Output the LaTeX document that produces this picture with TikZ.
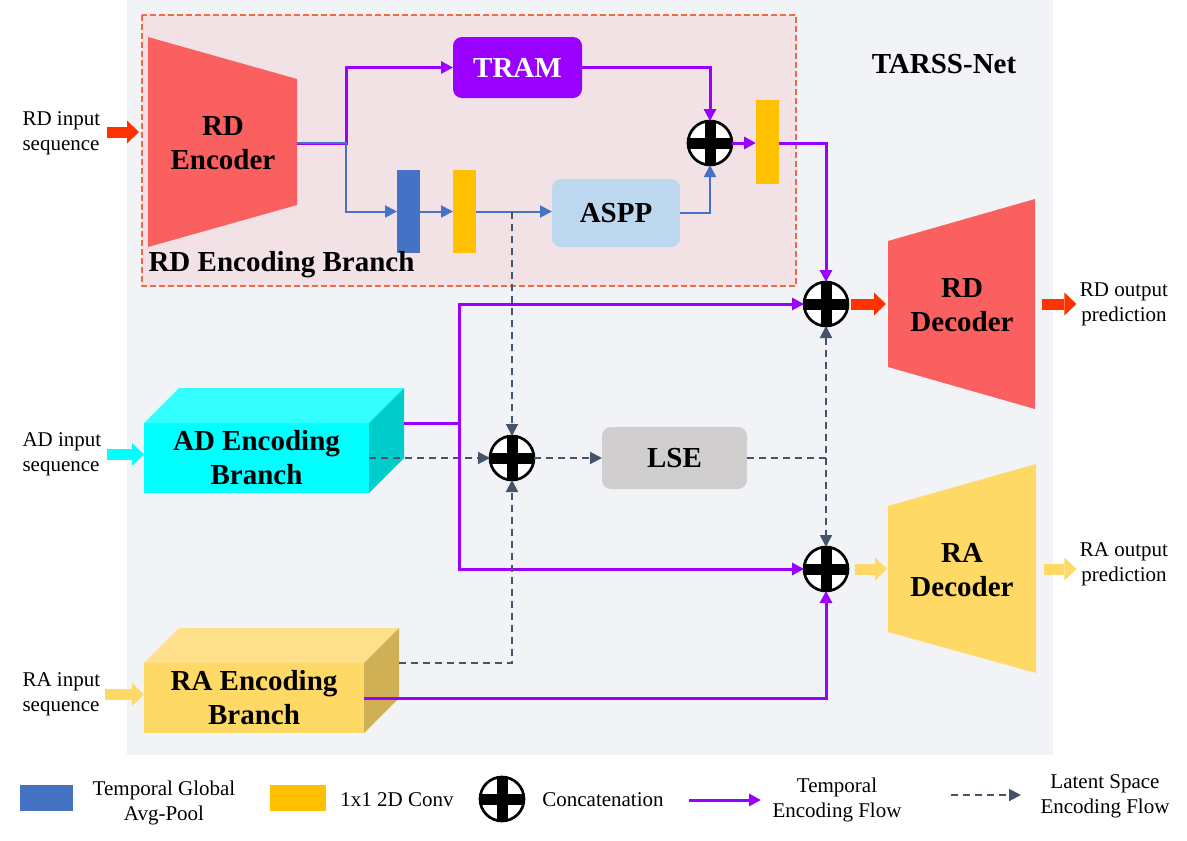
\documentclass[tikz,border=0pt]{standalone}
\usepackage{fontspec}
\setmainfont{Liberation Serif}
\usetikzlibrary{arrows.meta,calc}
\definecolor{panel}{HTML}{F2F3F7}
\definecolor{branchfill}{HTML}{F2E2E5}
\definecolor{branchdash}{HTML}{F2694A}
\definecolor{encred}{HTML}{FA6060}
\definecolor{tpurple}{HTML}{9900FF}
\definecolor{tblue}{HTML}{4472C4}
\definecolor{tyellow}{HTML}{FFC000}
\definecolor{asppblue}{HTML}{BDD7EE}
\definecolor{lsegrey}{HTML}{D0CECE}
\definecolor{tslate}{HTML}{44546A}
\definecolor{redarr}{HTML}{FF3300}
\definecolor{adcyan}{HTML}{00FFFF}
\definecolor{adtop}{HTML}{33FFFF}
\definecolor{adside}{HTML}{00CCCC}
\definecolor{rayellow}{HTML}{FFD966}
\definecolor{ratop}{HTML}{FFE08A}
\definecolor{raside}{HTML}{CFB054}
\begin{document}
\begin{tikzpicture}[x=1pt,y=-1pt,
  bigtxt/.style={font=\bfseries\fontsize{29}{34}\selectfont, align=center},
  smtxt/.style={font=\fontsize{21}{25}\selectfont, align=center},
  cat/.style={circle, draw=black, line width=2.7pt, fill=white, minimum size=44pt,
    inner sep=0pt, outer sep=0pt, path picture={
      \fill[black] ([xshift=-25pt,yshift=-5.5pt]path picture bounding box.center) rectangle ([xshift=25pt,yshift=5.5pt]path picture bounding box.center);
      \fill[black] ([xshift=-5.5pt,yshift=-25pt]path picture bounding box.center) rectangle ([xshift=5.5pt,yshift=25pt]path picture bounding box.center);}},
  barbox/.style={minimum width=23pt, minimum height=83pt, inner sep=0pt, outer sep=0pt},
  rbox/.style={rounded corners=9pt, inner sep=0pt, outer sep=0pt, bigtxt},
  faceb/.style={inner sep=0pt, outer sep=0pt, minimum height=70pt, bigtxt},
  purpl/.style={draw=tpurple, line width=3pt},
  purpa/.style={purpl, -{Triangle[length=12pt,width=12pt]}},
  bluea/.style={draw=tblue, line width=2pt, -{Triangle[length=12pt,width=12pt]}},
  lsel/.style={draw=tslate, line width=2pt, dash pattern=on 7pt off 5pt},
  lsea/.style={lsel, -{Triangle[length=12pt,width=12pt]}},
  lsed/.style={lsel, {Triangle[length=12pt,width=12pt]}-{Triangle[length=12pt,width=12pt]}},
  blk/.style={line width=11pt, -{Triangle[length=12pt,width=23pt,line width=0pt]}},
]
\fill[white] (0,0) rectangle (1187,841);
\useasboundingbox (0,0) rectangle (1187,841);
\fill[panel] (127,0) rectangle (1053,755);
\draw[branchdash, fill=branchfill, line width=1.8pt, dash pattern=on 6pt off 3pt] (142,15) rectangle (796,286);

% RD encoder
\fill[encred] (148,37) -- (297,79) -- (297,205) -- (148,247) -- cycle;
\node[bigtxt] (rdenc) at (223,143) {RD\\Encoder};
\coordinate (rdencin) at (139,132);
\coordinate (rdencout) at (297,143);
\coordinate (split) at (346,143);

\node[rbox, fill=tpurple, text=white, minimum width=129pt, minimum height=61pt] (tram) at (517.5,67.5) {TRAM};
\node[barbox, fill=tblue] (bbar) at (408.5,211.5) {};
\node[barbox, fill=tyellow] (ybar1) at (464.5,211.5) {};
\node[rbox, fill=asppblue, minimum width=128pt, minimum height=68pt] (aspp) at (616,213) {ASPP};
\node[cat] (c1) at (710,143) {};
\node[barbox, fill=tyellow, minimum height=84pt] (ybar2) at (767.5,142) {};
\node[bigtxt, anchor=west] (rdbl) at (145,265) {RD Encoding Branch};
\node[bigtxt] (title) at (944,64) {TARSS-Net};

% concatenations and LSE
\node[cat] (c2) at (826,304) {};
\node[cat] (c3) at (826,569) {};
\node[cat] (c4) at (512,458) {};
\node[rbox, fill=lsegrey, minimum width=145pt, minimum height=62pt] (lse) at (674.5,458) {LSE};

% AD branch
\node[faceb, fill=adcyan, minimum width=225pt] (adb) at (256.5,458) {AD Encoding\\Branch};
\fill[adtop] (adb.north west) -- ++(35,-35) -- ++(225,0) -- (adb.north east) -- cycle;
\fill[adside] (adb.north east) -- ++(35,-35) -- ++(0,70) -- (adb.south east) -- cycle;
% RA branch
\node[faceb, fill=rayellow, minimum width=220pt] (rab) at (254,698) {RA Encoding\\Branch};
\fill[ratop] (rab.north west) -- ++(35,-35) -- ++(220,0) -- (rab.north east) -- cycle;
\fill[raside] (rab.north east) -- ++(35,-35) -- ++(0,70) -- (rab.south east) -- cycle;

% decoders
\fill[encred] (888,241) -- (1035,199) -- (1035,409) -- (888,367) -- cycle;
\node[bigtxt] (rddec) at (962,305) {RD\\Decoder};
\fill[rayellow] (888,506) -- (1036,464) -- (1036,673) -- (888,632) -- cycle;
\node[bigtxt] (radec) at (962,570) {RA\\Decoder};
\coordinate (rddecin) at (886,304);
\coordinate (rddecout) at (1042,304);
\coordinate (radecin) at (887,569);
\coordinate (radecout) at (1044,569);

% inputs / outputs
\node[smtxt, align=left, anchor=west] (rdin) at (19,133.5) {RD input\\sequence};
\node[smtxt, align=left, anchor=west] (adin) at (19,454.5) {AD input\\sequence};
\node[smtxt, align=left, anchor=west] (rain) at (19,694.5) {RA input\\sequence};
\node[smtxt] (rdout) at (1124,304.5) {RD output\\prediction};
\node[smtxt] (raout) at (1124,564.5) {RA output\\prediction};

\draw[blk, redarr] ([xshift=3pt]rdin.east |- rdencin) -- (rdencin);
\draw[blk, adcyan] ([xshift=2pt]adin.east) -- (adin.east -| adb.west);
\draw[blk, rayellow] ([xshift=1pt]rain.east) -- (rain.east -| rab.west);
\draw[blk, redarr] ([xshift=3pt]c2.east) -- (rddecin);
\draw[blk, rayellow] ([xshift=7pt]c3.east) -- (radecin);
\draw[blk, redarr] (rddecout) -- (rddecout -| rdout.west);
\draw[blk, rayellow] (radecout) -- (radecout -| raout.west);

% RD encoding branch flows
\draw[purpa] (rdencout) -- (split) |- (tram.west);
\draw[bluea] (rdencout) -- (split) |- (bbar.west);
\draw[bluea] (bbar.east) -- (ybar1.west);
\draw[bluea] (ybar1.east) -- (aspp.west |- ybar1.east);
\draw[bluea] (aspp.east) -| (c1.south);
\draw[purpa] (tram.east) -| (c1.north);
\draw[purpa] (c1.east) -- (ybar2.west |- c1.east);
\draw[purpa] (ybar2.east |- c1.east) -| (c2.north);

% AD / RA flows
\coordinate (adout) at (404,423);
\coordinate (j1) at (459,423);
\coordinate (raout1) at (399,663);
\draw[purpl] (adout) -- (j1);
\draw[purpa] (j1) |- (c2.west);
\draw[purpa] (j1) |- (c3.west);
\draw[purpa] (rab.east) -| (c3.south);
\draw[lsea] (adb.east) -- (c4.west);
\draw[lsea] (c4.north |- ybar1.east) -- (c4.north);
\draw[lsea] (raout1) -| (c4.south);
\draw[lsea] (c4.east) -- (lse.west);
\draw[lsel] (lse.east) -- (lse.east -| c2.south);
\draw[lsed] (c2.south) -- (c3.north);

% legend
\node[inner sep=0pt, minimum width=53pt, minimum height=26pt, fill=tblue] (lgb) at (46.5,798) {};
\node[smtxt] (lgbt) at (164,803) {Temporal Global\\Avg-Pool};
\node[inner sep=0pt, minimum width=56pt, minimum height=26pt, fill=tyellow] (lgy) at (298,798) {};
\node[smtxt] (lgyt) at (397,800) {1x1 2D Conv};
\node[cat] (lgc) at (502,799) {};
\node[smtxt] (lgct) at (603,800) {Concatenation};
\coordinate (lgpa) at (689,800);
\coordinate (lgpb) at (761,800);
\draw[purpa] (lgpa) -- (lgpb);
\node[smtxt] (lgpt) at (837,800) {Temporal\\Encoding Flow};
\coordinate (lgda) at (951,795);
\coordinate (lgdb) at (1021,795);
\draw[lsea] (lgda) -- (lgdb);
\node[smtxt] (lgdt) at (1105,796) {Latent Space\\Encoding Flow};
\end{tikzpicture}
\end{document}
